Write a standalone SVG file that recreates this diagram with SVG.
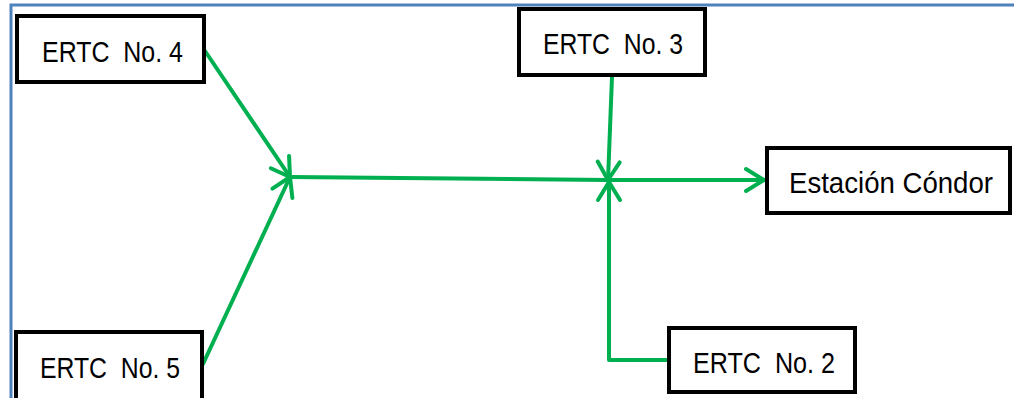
<svg xmlns="http://www.w3.org/2000/svg" width="1014" height="398" viewBox="0 0 1014 398">
<style>
.box{fill:#fff;stroke:#000;stroke-width:4}
.lbl{font-family:"Liberation Sans",Arial,sans-serif;font-size:30px;fill:#000}
.con{fill:none;stroke:#00b050;stroke-width:4;stroke-linecap:round;stroke-linejoin:round}
.frame{stroke:#4f81bd;stroke-width:3;fill:none}
</style>
<defs>
<marker id="arr" markerUnits="userSpaceOnUse" viewBox="-22 -14 26 28" refX="0" refY="0" markerWidth="26" markerHeight="28" orient="auto">
<path d="M-18,-11 L0,0 L-18,11" fill="none" stroke="#00b050" stroke-width="4" stroke-linecap="round" stroke-linejoin="round"/>
</marker>
</defs>
<rect width="1014" height="398" fill="#fff"/>
<g id="frame">
<path class="frame" d="M11,398 L11,5 L1014,5"/>
</g>
<g id="connectors">
<line class="con" x1="205" y1="51" x2="290" y2="177" marker-end="url(#arr)"/>
<line class="con" x1="203" y1="364" x2="290" y2="177" marker-end="url(#arr)"/>
<line class="con" x1="290" y1="177" x2="608" y2="180"/>
<line class="con" x1="612" y1="77" x2="608" y2="180" marker-end="url(#arr)"/>
<polyline class="con" points="668,360 609,360 609,182" marker-end="url(#arr)"/>
<line class="con" x1="608" y1="180" x2="764" y2="180" marker-end="url(#arr)"/>
</g>
<g id="ertc4">
<rect class="box" x="17" y="16" width="187" height="66"/>
<text class="lbl" x="42" y="62" textLength="141" lengthAdjust="spacingAndGlyphs" xml:space="preserve">ERTC  No. 4</text>
</g>
<g id="ertc3">
<rect class="box" x="519" y="9" width="186" height="66"/>
<text class="lbl" x="543" y="54" textLength="140" lengthAdjust="spacingAndGlyphs" xml:space="preserve">ERTC  No. 3</text>
</g>
<g id="condor">
<rect class="box" x="767" y="148" width="243" height="65"/>
<text class="lbl" x="789" y="193" textLength="204" lengthAdjust="spacingAndGlyphs">Estación Cóndor</text>
</g>
<g id="ertc2">
<rect class="box" x="669" y="328" width="186" height="64"/>
<text class="lbl" x="693" y="373" textLength="142" lengthAdjust="spacingAndGlyphs" xml:space="preserve">ERTC  No. 2</text>
</g>
<g id="ertc5">
<rect class="box" x="16" y="332" width="186" height="72"/>
<text class="lbl" x="40" y="378" textLength="140" lengthAdjust="spacingAndGlyphs" xml:space="preserve">ERTC  No. 5</text>
</g>
</svg>
